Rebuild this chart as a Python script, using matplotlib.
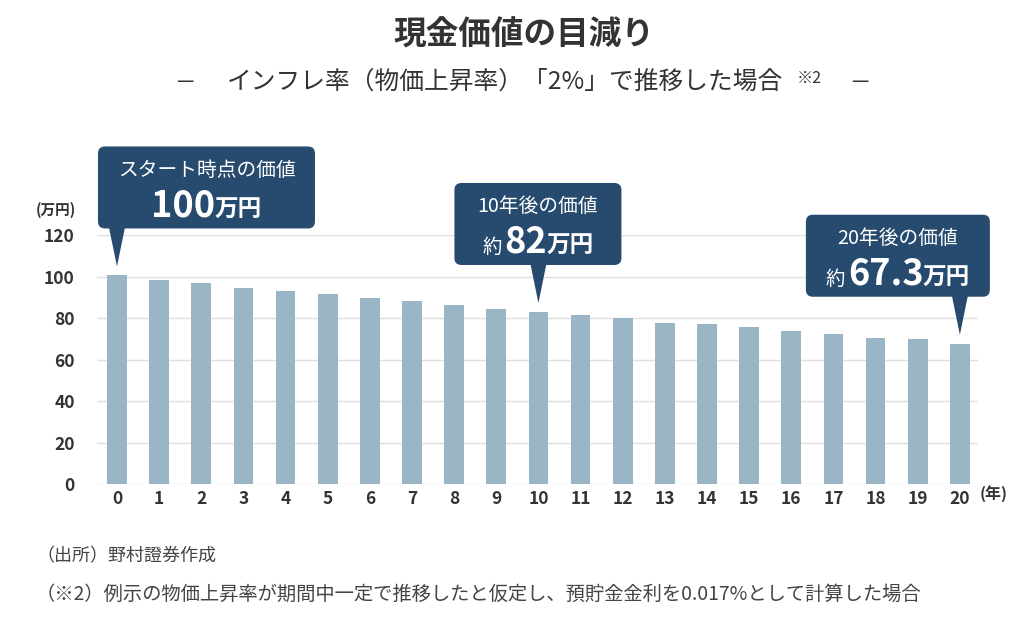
import matplotlib
matplotlib.use("Agg")
import matplotlib.pyplot as plt
from matplotlib.patches import FancyBboxPatch, Polygon
from matplotlib.transforms import IdentityTransform

plt.rcParams['font.family'] = ['Noto Sans CJK JP', 'DejaVu Sans']

# data
years = list(range(21))
values = [100.5, 98.3, 97.0, 94.3, 93.0, 91.7, 89.6, 88.2, 86.3, 84.2, 82.9,
          81.6, 79.8, 77.7, 77.0, 75.7, 73.6, 72.3, 70.4, 69.7, 67.6]
y_ticks = [0, 20, 40, 60, 80, 100, 120]

# callouts: bar index, first line, prefix, big number, unit
callout_years = [0, 10, 20]
callout_titles = ["スタート時点の価値", "10年後の価値", "20年後の価値"]
callout_prefix = ["", "約", "約"]
callout_numbers = ["100", "82", "67.3"]
callout_unit = "万円"

BAR = '#9AB6C6'
NAVY = '#264B6E'
TEXT = '#333333'

W, H = 1024, 641
fig = plt.figure(figsize=(W / 100, H / 100), dpi=100)
fig.patch.set_facecolor('white')

# axes placed in pixel terms
ax = fig.add_axes([97 / W, 157 / H, (978 - 97) / W, (484 - 235) / H])
ax.bar(years, values, width=0.47, color=BAR, zorder=2)
ax.set_xlim(-0.474, 20.43)
ax.set_ylim(0, 120)
ax.set_yticks(y_ticks)
ax.set_xticks(years)
ax.grid(axis='y', color='#E0E0E0', linewidth=1.0, zorder=0)
ax.set_axisbelow(True)
for s in ax.spines.values():
    s.set_visible(False)
ax.tick_params(axis='both', length=0, labelsize=12.5, labelcolor=TEXT)
ax.tick_params(axis='y', pad=16)
ax.tick_params(axis='x', pad=4)
for lbl in ax.get_xticklabels() + ax.get_yticklabels():
    lbl.set_fontweight('bold')

# unit labels
fig.text(76 / W, 1 - 210 / H, "(万円)", ha='right', va='center',
         fontsize=10.5, color=TEXT, fontweight='bold')
fig.text(980 / W, 1 - 494 / H, "(年)", ha='left', va='center',
         fontsize=11.5, color=TEXT, fontweight='bold')

# title and subtitle
fig.text(524 / W, 1 - 35 / H, "現金価値の目減り", ha='center', va='center',
         fontsize=23.5, fontweight='bold', color=TEXT)
fig.text(505 / W, 1 - 82 / H, "インフレ率（物価上昇率）「2%」で推移した場合",
         ha='center', va='center', fontsize=17.8, color=TEXT)
fig.text(809 / W, 1 - 78 / H, "※2", ha='center', va='center',
         fontsize=11.5, color=TEXT)
fig.text(185 / W, 1 - 82 / H, "—", ha='center', va='center',
         fontsize=14, color=TEXT)
fig.text(860 / W, 1 - 82 / H, "—", ha='center', va='center',
         fontsize=14, color=TEXT)

# footnotes
fig.text(36 / W, 1 - 556 / H, "（出所）野村證券作成", ha='left', va='center',
         fontsize=13, color='#444444')
fig.text(36 / W, 1 - 594 / H,
         "（※2）例示の物価上昇率が期間中一定で推移したと仮定し、預貯金金利を0.017%として計算した場合",
         ha='left', va='center', fontsize=13.9, color='#444444')

# callout boxes (pixel offsets relative to the pointer tip)
box_offsets = [(-19, 198), (-84, 83), (-154, 30)]
renderer = fig.canvas.get_renderer()
ident = IdentityTransform()

for k, yr in enumerate(callout_years):
    bx, by = ax.transData.transform((yr, values[yr]))
    tip_x, tip_y = bx, by + 9
    left, right = tip_x + box_offsets[k][0], tip_x + box_offsets[k][1]
    top, bottom = tip_y + 120, tip_y + 38
    box = FancyBboxPatch((left, bottom), right - left, top - bottom,
                         boxstyle="round,pad=0,rounding_size=7",
                         transform=ident, fc=NAVY, ec='none', zorder=5)
    fig.add_artist(box)
    tri = Polygon([(tip_x - 8, bottom + 1), (tip_x + 8, bottom + 1), (tip_x, tip_y)],
                  closed=True, transform=ident, fc=NAVY, ec='none', zorder=5)
    fig.add_artist(tri)
    cx = (left + right) / 2
    fig.text(cx, top - 24, callout_titles[k], transform=ident, ha='center',
             va='center', fontsize=14.2, color='white', zorder=6)

    # second line with mixed sizes, baseline aligned; gap after each piece
    pieces = [(callout_prefix[k], 14, 'normal', 3),
              (callout_numbers[k], 26, 'bold', -1),
              (callout_unit, 17, 'bold', 0)]
    texts = []
    widths = []
    for s, fs, fw, g in pieces:
        if not s:
            continue
        t = fig.text(0, 0, s, transform=ident, ha='left', va='baseline',
                     fontsize=fs, fontweight=fw, color='white', zorder=6)
        texts.append(t)
        widths.append(t.get_window_extent(renderer).width + g)
    total = sum(widths)
    x = cx - total / 2
    base = top - 70
    for t, w in zip(texts, widths):
        t.set_position((x, base))
        x += w

fig.savefig("out.png", dpi=100)
